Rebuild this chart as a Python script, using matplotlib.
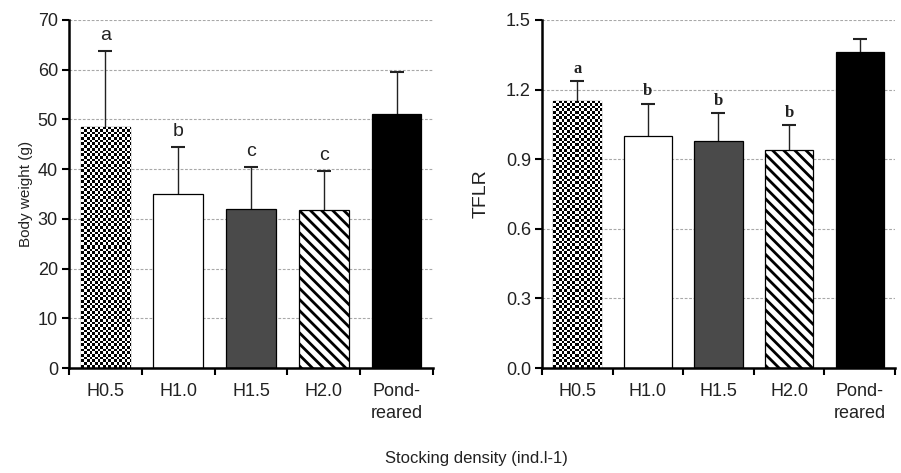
import numpy as np
import matplotlib
matplotlib.use("Agg")
from matplotlib import pyplot as plt

plt.rcParams['font.family'] = ['Liberation Sans', 'DejaVu Sans']
plt.rcParams['hatch.linewidth'] = 2.0

# groups
categorie = ['H0.5', 'H1.0', 'H1.5', 'H2.0', 'Pond-\nreared']

# body weight (g): mean and upper SD
peso_medio = [48.5, 35.1, 32.0, 31.7, 51.0]
peso_sd = [15.3, 9.4, 8.4, 8.0, 8.6]
peso_lettere = ['a', 'b', 'c', 'c', '']

# TFLR: mean and upper SD
tflr_medio = [1.15, 1.00, 0.977, 0.94, 1.36]
tflr_sd = [0.088, 0.14, 0.12, 0.107, 0.057]
tflr_lettere = ['a', 'b', 'b', 'b', '']

colori = ['black', 'white', '#4a4a4a', 'white', 'black']


def scacchiera(ax, barra, lato_px=2.7):
    # checkerboard fill clipped to the bar, built one screen pixel at a time
    bb = barra.get_window_extent()
    ncol = max(1, int(round(bb.width)))
    nrig = max(1, int(round(bb.height)))
    ii, jj = np.indices((nrig, ncol))
    pattern = ((np.floor(ii / lato_px) + np.floor(jj / lato_px)) % 2).astype(float)
    x0, y0 = barra.get_x(), barra.get_y()
    img = ax.imshow(pattern, cmap='gray', vmin=0, vmax=1, interpolation='nearest',
                    aspect='auto', origin='lower',
                    extent=(x0, x0 + barra.get_width(), y0, y0 + barra.get_height()),
                    zorder=barra.get_zorder() + 0.1)
    img.set_clip_path(barra)


def pannello(ax, medie, sd, lettere, ymax, passo, ylabel, fmt, font_lettere, off_lettere, ylabel_size):
    x = np.arange(len(categorie))
    ax.set_xlim(-0.5, len(categorie) - 0.5)
    ax.set_ylim(0, ymax)
    ax.set_axisbelow(True)
    ax.yaxis.grid(True, color='#a8a8a8', linestyle=(0, (2.5, 1.5)), linewidth=0.8)

    barre = ax.bar(x, medie, width=0.68, color=colori, edgecolor='black', linewidth=0.9, zorder=2)
    barre[3].set_hatch('\\\\\\')

    eb = ax.errorbar(x, medie, yerr=[np.zeros(len(x)), sd], fmt='none', ecolor='#222222',
                     elinewidth=1.0, capsize=5, capthick=1.5, zorder=1.5)
    eb[1][0].set_visible(False)  # only the upper cap

    for xi, m, s, l in zip(x, medie, sd, lettere):
        if l:
            ax.annotate(l, (xi, m + s), xytext=(0, off_lettere), textcoords='offset points',
                        ha='center', va='bottom', color='#222222', **font_lettere)

    ax.set_yticks(np.arange(0, ymax + passo / 2, passo))
    ax.yaxis.set_major_formatter(plt.FormatStrFormatter(fmt))
    ax.set_xticks(x)
    ax.set_xticklabels(categorie, fontsize=13, color='#222222', linespacing=1.35)
    ax.set_xticks(np.arange(-0.5, len(categorie)), minor=True)
    ax.tick_params(axis='x', which='major', length=0, pad=11)
    ax.tick_params(axis='x', which='minor', length=5, width=1.5, direction='out')
    ax.tick_params(axis='y', length=5, width=1.5, direction='out', labelsize=13,
                   labelcolor='#222222', pad=3)
    for lato in ['top', 'right']:
        ax.spines[lato].set_visible(False)
    for lato in ['left', 'bottom']:
        ax.spines[lato].set_linewidth(1.8)
    ax.set_ylabel(ylabel, fontsize=ylabel_size, color='#222222')

    fig.canvas.draw()
    scacchiera(ax, barre[0])
    ax.set_xlim(-0.5, len(categorie) - 0.5)
    ax.set_ylim(0, ymax)


fig = plt.figure(figsize=(9.01, 4.73), dpi=100)
ax1 = fig.add_axes([69 / 901, 105 / 473, 364 / 901, 348 / 473])
ax2 = fig.add_axes([542 / 901, 105 / 473, 353 / 901, 348 / 473])

pannello(ax1, peso_medio, peso_sd, peso_lettere, 70, 10, 'Body weight (g)', '%d',
         dict(fontsize=14), 5, 11)
pannello(ax2, tflr_medio, tflr_sd, tflr_lettere, 1.5, 0.3, 'TFLR', '%.1f',
         dict(fontsize=12, family='Liberation Serif', fontweight='bold'), 3, 14)

ax1.yaxis.set_label_coords(-0.10, 0.5)
ax2.yaxis.set_label_coords(-0.147, 0.5)

fig.text(476 / 901, 1 - 458 / 473, 'Stocking density (ind.l-1)', ha='center', va='center',
         fontsize=12, color='#222222')

plt.savefig('out.png', dpi=100)
